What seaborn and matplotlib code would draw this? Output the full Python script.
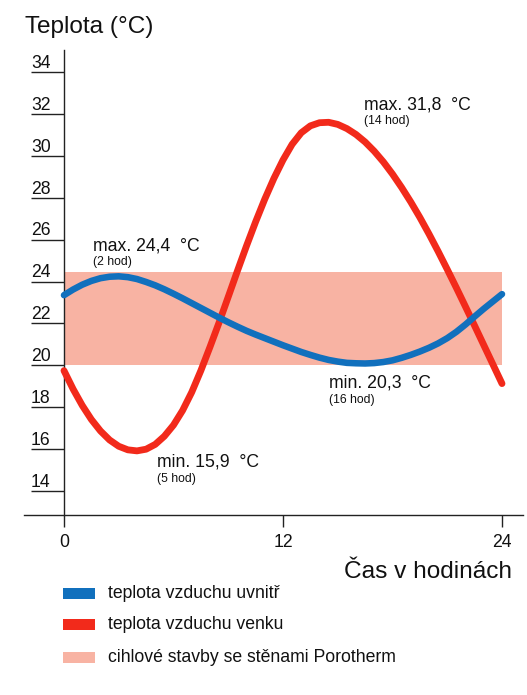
import matplotlib
matplotlib.use("Agg")
import matplotlib.pyplot as plt
import seaborn as sns
import pandas as pd
from matplotlib.patches import Rectangle

# ---- data ----
hours = [0.0, 0.5, 1.0, 1.5, 2.0, 2.5, 3.0, 3.5, 4.0, 4.5, 5.0, 5.5, 6.0, 6.5,
         7.0, 7.5, 8.0, 8.5, 9.0, 9.5, 10.0, 10.5, 11.0, 11.5, 12.0, 12.5,
         13.0, 13.5, 14.0, 14.5, 15.0, 15.5, 16.0, 16.5, 17.0, 17.5, 18.0,
         18.5, 19.0, 19.5, 20.0, 20.5, 21.0, 21.5, 22.0, 22.5, 23.0, 23.5, 24.0]

inside = [23.35, 23.62, 23.85, 24.03, 24.16, 24.23, 24.25, 24.21, 24.12, 23.98,
          23.82, 23.63, 23.42, 23.20, 22.97, 22.74, 22.51, 22.28, 22.06, 21.85,
          21.65, 21.47, 21.30, 21.13, 20.96, 20.80, 20.64, 20.50, 20.37, 20.26,
          20.18, 20.12, 20.10, 20.09, 20.11, 20.16, 20.24, 20.36, 20.50, 20.66,
          20.84, 21.05, 21.30, 21.60, 21.95, 22.33, 22.70, 23.05, 23.40]

outside = [19.75, 18.87, 18.09, 17.42, 16.87, 16.44, 16.14, 15.97, 15.92, 16.00,
           16.23, 16.62, 17.15, 17.85, 18.72, 19.75, 20.88, 22.05, 23.27, 24.50,
           25.70, 26.85, 27.93, 28.92, 29.80, 30.55, 31.10, 31.43, 31.58, 31.60,
           31.50, 31.30, 31.02, 30.66, 30.22, 29.71, 29.13, 28.49, 27.80, 27.06,
           26.27, 25.44, 24.58, 23.70, 22.80, 21.89, 20.97, 20.05, 19.13]

band_low, band_high = 20.0, 24.45
band_hours = [0, 24]

y_ticks = [14, 16, 18, 20, 22, 24, 26, 28, 30, 32, 34]
x_ticks = [0, 12, 24]

annot_main = ["max. 24,4  °C", "max. 31,8  °C", "min. 15,9  °C", "min. 20,3  °C"]
annot_sub = ["(2 hod)", "(14 hod)", "(5 hod)", "(16 hod)"]
annot_x = [1.57, 16.44, 5.11, 14.52]
annot_y_main = [25.50, 32.22, 15.16, 18.95]
annot_y_sub = [24.79, 31.50, 14.44, 18.19]

legend_labels = ["teplota vzduchu uvnitř", "teplota vzduchu venku",
                 "cihlové stavby se stěnami Porotherm"]

y_title = "Teplota (°C)"
x_title = "Čas v hodinách"

BLUE = "#1170bd"
RED = "#f22a1b"
PINK = "#f8b3a3"

# ---- style ----
sns.set_style("white")
plt.rcParams["font.family"] = ["Liberation Sans", "DejaVu Sans"]

W, H = 527, 695
fig = plt.figure(figsize=(W / 100, H / 100), dpi=100)
ax = fig.add_axes([24 / W, 1 - 515 / H, 499 / W, (515 - 50) / H])

df = pd.DataFrame({"hour": hours, "inside": inside, "outside": outside})

ax.fill_between(band_hours, band_low, band_high, color=PINK, lw=0, zorder=1)
sns.lineplot(data=df, x="hour", y="outside", color=RED, lw=4.9, ax=ax, zorder=3,
             solid_joinstyle="round")
sns.lineplot(data=df, x="hour", y="inside", color=BLUE, lw=4.7, ax=ax, zorder=4,
             solid_joinstyle="round")

ax.set_xlim(-2.19, 25.15)
ax.set_ylim(12.86, 35.05)
ax.set_xlabel("")
ax.set_ylabel("")

for s in ["top", "right"]:
    ax.spines[s].set_visible(False)
ax.spines["left"].set_position(("data", 0))
for s in ["left", "bottom"]:
    ax.spines[s].set_color("#222222")
    ax.spines[s].set_linewidth(1.0)

ax.set_xticks(x_ticks)
ax.set_xticklabels([str(t) for t in x_ticks])
ax.tick_params(axis="x", bottom=True, direction="out", length=8.6, width=1.0,
               color="#222222", pad=5, labelsize=12.7, labelcolor="#111111")
ax.set_yticks(y_ticks)
ax.tick_params(axis="y", left=True, direction="out", length=23.8, width=1.0,
               color="#222222", labelleft=False)

ytr = ax.get_yaxis_transform()
for v in y_ticks:
    ax.text(7 / 499, v + 0.2, str(v), transform=ytr, ha="left", va="baseline",
            fontsize=12.7, color="#111111")

for txt, sub, x, ym, ys in zip(annot_main, annot_sub, annot_x, annot_y_main, annot_y_sub):
    ax.text(x, ym, txt, ha="left", va="baseline", fontsize=12.7, color="#111111", zorder=5)
    ax.text(x, ys, sub, ha="left", va="baseline", fontsize=8.8, color="#111111", zorder=5)

fig.text(25 / W, 1 - 27.5 / H, y_title, ha="left", va="center", fontsize=17.6,
         color="#111111")
fig.text(512 / W, 1 - 572 / H, x_title, ha="right", va="center", fontsize=17.6,
         color="#111111")

leg_colors = [BLUE, RED, PINK]
leg_centers = [593.5, 624.5, 657.5]
for lab, col, cy in zip(legend_labels, leg_colors, leg_centers):
    fig.patches.append(Rectangle((63 / W, 1 - (cy + 5.5) / H), 32 / W, 11 / H,
                                 transform=fig.transFigure, color=col, lw=0))
    fig.text(108 / W, 1 - cy / H, lab, ha="left", va="center", fontsize=12.7,
             color="#111111")

fig.savefig("out.png", dpi=100)
